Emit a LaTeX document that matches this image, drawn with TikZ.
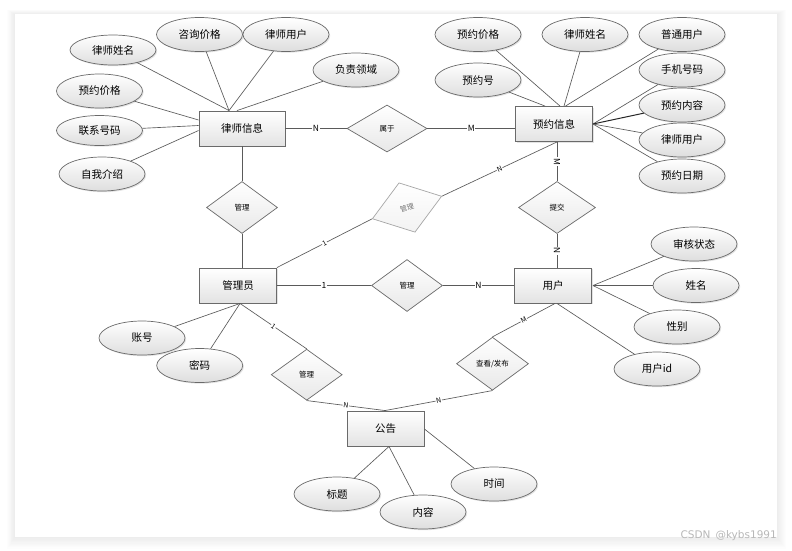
\documentclass[tikz,border=0pt]{standalone}
\usepackage{fontspec}
\setmainfont{Noto Sans CJK SC}
\newfontfamily\wmfont{DejaVu Sans}
\usetikzlibrary{shapes.geometric,calc,shadows}
\definecolor{lncol}{HTML}{5A5A5A}
\definecolor{bdcol}{HTML}{6A6A6A}
\begin{document}
\begin{tikzpicture}[x=1pt,y=-1pt,
 shd/.style={drop shadow={shadow xshift=1.2pt,shadow yshift=-1.2pt,opacity=0.22}},
 ent/.style={rectangle,draw=bdcol,line width=0.9pt,minimum width=77pt,minimum height=35pt,inner sep=0pt,top color=white,bottom color=black!11,font=\fontsize{10.5}{12}\selectfont,shd},
 attr/.style={ellipse,draw=bdcol,line width=0.7pt,minimum width=86pt,minimum height=33pt,inner sep=0pt,top color=white,bottom color=black!13,font=\fontsize{10.5}{12}\selectfont,shd},
 rel/.style={diamond,draw=bdcol,line width=0.7pt,minimum width=71pt,minimum height=52pt,inner sep=0pt,top color=white,bottom color=black!9,font=\fontsize{7.5}{9}\selectfont},
 conn/.style={draw=lncol,line width=0.65pt},
 lab/.style={fill=white,inner sep=0.8pt,font=\fontsize{8.5}{9}\selectfont},
 slab/.style={fill=white,inner sep=0.6pt,font=\fontsize{7}{8}\selectfont,sloped}]
\useasboundingbox (0,0) rectangle (792,550);
\fill[white] (0,0) rectangle (792,550);
% card shadow
\foreach \i in {1,...,9}{
  \fill[black,opacity=0.009] (15-\i*0.9,14-\i*0.5) rectangle (777+\i*1.0,537+\i*1.3);
}
\fill[white] (15,14) rectangle (777,537);

% entities
\node[ent,minimum width=86pt] (law) at (242,128.5) {律师信息};
\node[ent] (res) at (554,124) {预约信息};
\node[ent] (adm) at (238,285.5) {管理员};
\node[ent] (usr) at (553,285.5) {用户};
\node[ent] (ntc) at (385.5,428.5) {公告};

% relationships
\node[rel,minimum width=80pt,minimum height=47pt] (belong) at (387,128.5) {属于};
\node[rel] (mg1) at (242,207.5) {管理};
\node[rel,minimum width=73pt,draw=black!35,text=black!55,top color=white,bottom color=black!5,rotate=18,font=\fontsize{7}{8}\selectfont] (mg2) at (407,207.5) {管理};
\node[rel] (mg3) at (407,285.5) {管理};
\node[rel,minimum width=77pt] (sub) at (557,207.5) {提交};
\node[rel,minimum height=51pt] (mg4) at (306.7,374.7) {管理};
\node[rel,minimum width=72pt,minimum height=53pt] (pub) at (492.5,363.7) {查看/发布};

% attributes of 律师信息
\node[attr,minimum height=30pt] (a1) at (113,50) {律师姓名};
\node[attr,minimum height=34pt] (a2) at (199.5,34.5) {咨询价格};
\node[attr,minimum height=34pt] (a3) at (286,34.5) {律师用户};
\node[attr,minimum height=34pt] (a4) at (356,70) {负责领域};
\node[attr,minimum height=34pt] (a5) at (99.5,91) {预约价格};
\node[attr,minimum height=30pt] (a6) at (99.5,130.5) {联系号码};
\node[attr,minimum height=34pt] (a7) at (102,174) {自我介绍};

% attributes of 预约信息
\node[attr,minimum height=34pt] (b1) at (478,34.5) {预约价格};
\node[attr,minimum height=34pt] (b2) at (585,34.5) {律师姓名};
\node[attr,minimum height=34pt] (b3) at (682,34.5) {普通用户};
\node[attr,minimum height=34pt] (b4) at (478,80) {预约号};
\node[attr,minimum height=34pt] (b5) at (682,70) {手机号码};
\node[attr,minimum height=34pt] (b6) at (682,105) {预约内容};
\node[attr,minimum height=34pt] (b7) at (682,140) {律师用户};
\node[attr,minimum height=34pt] (b8) at (682,176) {预约日期};

% attributes of 管理员
\node[attr,minimum height=34pt] (c1) at (142,338) {账号};
\node[attr,minimum height=34pt] (c2) at (199.7,365.5) {密码};

% attributes of 用户
\node[attr,minimum height=34pt] (d1) at (694,244) {审核状态};
\node[attr,minimum height=34pt] (d2) at (696,285.5) {姓名};
\node[attr,minimum height=34pt] (d3) at (677,327) {性别};
\node[attr,minimum height=34pt] (d4) at (657,369) {用户id};

% attributes of 公告
\node[attr,minimum height=34pt] (e1) at (337,494) {标题};
\node[attr,minimum height=34pt] (e2) at (423,512) {内容};
\node[attr,minimum height=34pt] (e3) at (494,484) {时间};

% connection points
\coordinate (lawT) at ($(law.north)+(-13,0)$);
\coordinate (lawT2) at ($(law.north)+(-5,0)$);
\coordinate (lawL1) at ($(law.west)+(0,-8.5)$);
\coordinate (lawL2) at ($(law.west)+(0,-3)$);
\coordinate (lawL3) at ($(law.west)+(0,2)$);
\coordinate (resT1) at ($(res.north)+(6,0)$);
\coordinate (resT2) at ($(res.north)+(-9,0)$);
\coordinate (resT3) at ($(res.north)+(10,0)$);
\coordinate (resT4) at ($(res.north)+(11.5,0)$);
\coordinate (resR) at ($(res.east)+(0,0)$);
\coordinate (resB) at ($(res.south)+(3,0)$);
\coordinate (admT) at ($(adm.north)+(4,0)$);
\coordinate (admB) at ($(adm.south)+(2,0)$);
\coordinate (usrT) at ($(usr.north)+(4,0)$);
\coordinate (usrR) at ($(usr.east)+(1,0)$);
\coordinate (usrB) at ($(usr.south)+(2,0)$);
\coordinate (usrB2) at ($(usr.south)+(4,0)$);
\coordinate (ntcT) at ($(ntc.north)+(-0.5,0)$);
\coordinate (ntcB) at ($(ntc.south)+(3.5,0)$);
\coordinate (ntcR) at ($(ntc.east)+(0,0.5)$);

% attribute connectors
\foreach \a in {a1,a2,a3} \draw[conn] (\a) -- (lawT);
\draw[conn] (a4) -- (lawT2);
\draw[conn] (a5) -- (lawL1);
\draw[conn] (a6) -- (lawL2);
\draw[conn] (a7) -- (lawL3);
\draw[conn] (b1) -- (resT1);
\draw[conn] (b4) -- (resT2);
\draw[conn] (b2) -- (resT3);
\draw[conn] (b3) -- (resT4);
\draw[conn] (b5) -- (resR);
\draw[draw=black!85,line width=1pt] (b6) -- (resR);
\draw[conn] (b7) -- (resR);
\draw[conn] (b8) -- (resR);
\draw[conn] (c1) -- (admB);
\draw[conn] (c2) -- (admB);
\draw[conn] (d1) -- (usrR);
\draw[conn] (d2) -- (usrR);
\draw[conn] (d3) -- (usrR);
\draw[conn] (d4) -- (usrB2);
\draw[conn] (e1) -- (ntcB);
\draw[conn] (e2) -- (ntcB);
\draw[conn] (e3) -- (ntcR);

% relationship connectors
\draw[conn] (law.east) -- node[lab]{N} (belong.west);
\draw[conn] (belong.east) -- node[lab]{M} (belong.east -| res.west);
\draw[conn] (resB) -- node[lab,rotate=-90]{M} (sub.north);
\draw[conn] (sub.south) -- node[lab,rotate=90]{N} (usrT);
\draw[conn] (law.south) -- (mg1.north);
\draw[conn] (mg1.south) -- (admT);
\draw[conn] (adm.north east) -- node[slab]{1} (mg2.west);
\draw[conn] (mg2.east) -- node[slab]{N} (resB);
\draw[conn] (adm.east) -- node[lab]{1} (mg3.west);
\draw[conn] (mg3.east) -- node[lab]{N} (usr.west);
\draw[conn] (admB) -- node[slab]{1} (mg4.north);
\draw[conn] (mg4.south) -- node[slab]{N} (ntcT);
\draw[conn] (usrB) -- node[slab]{M} (pub.north);
\draw[conn] (pub.south) -- node[slab]{N} (ntcT);

% watermark
\node[anchor=east,text=black!28,font=\wmfont\fontsize{10.5}{12}\selectfont,inner sep=0pt] (wm) at (777,536) {CSDN\hspace{5pt}@kybs1991};
\end{tikzpicture}
\end{document}
